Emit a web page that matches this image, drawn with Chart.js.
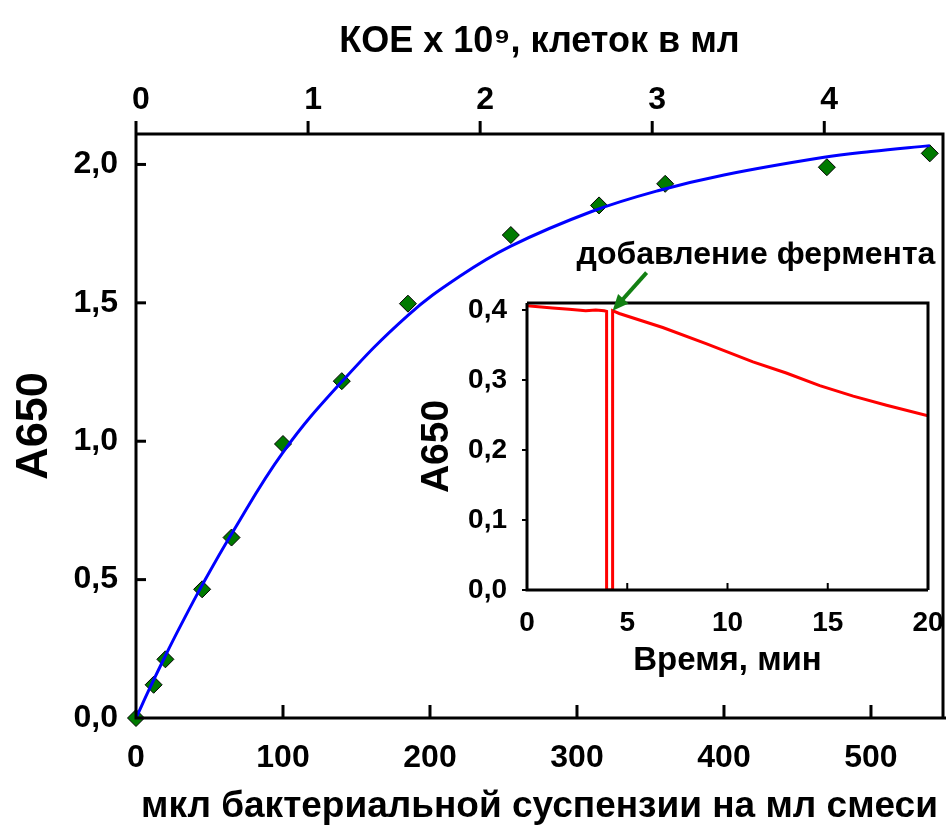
<!DOCTYPE html>
<html>
<head>
<meta charset="utf-8">
<script src="https://cdn.jsdelivr.net/npm/chart.js@4.4.1/dist/chart.umd.min.js"></script>
<style>
  body { margin: 0; background: #fff; }
  #wrap { position: relative; width: 946px; height: 826px; }
  #main { position: absolute; left: 0; top: 0; }
  #inset { position: absolute; left: 420px; top: 230px; }
</style>
</head>
<body>
<div id="wrap">
  <canvas id="main" width="946" height="826"></canvas>
  <canvas id="inset" width="526" height="460"></canvas>
</div>
<script>
// main plot: measured points
const volume = [0, 12, 20, 45, 65, 100, 140, 185, 255, 315, 360, 470, 540];
const absorb = [0, 0.12, 0.212, 0.465, 0.652, 0.99, 1.217, 1.497, 1.745, 1.852, 1.93, 1.99, 2.04];
// fitted curve
const fitX = [0, 10, 20, 30, 45, 65, 100, 140, 185, 220, 255, 310, 355, 400, 467, 500, 540];
const fitY = [0, 0.115, 0.225, 0.33, 0.48, 0.665, 0.96, 1.215, 1.455, 1.595, 1.705, 1.83, 1.905, 1.962, 2.025, 2.047, 2.068];
const bottomTicks = [0, 100, 200, 300, 400, 500];
const topTicks = [0, 1, 2, 3, 4];
const leftTicks = [0, 0.5, 1, 1.5, 2];

// inset: kinetics after enzyme addition
const timeMin = [0, 1.27, 2.1, 2.93, 3.43, 3.85, 3.97, 3.97, 4.27, 4.27, 4.6, 6.77, 8.93, 11.27, 12.93, 14.6, 16.27, 17.93, 20];
const insetA = [0.406, 0.403, 0.401, 0.399, 0.400, 0.399, 0.398, 0, 0, 0.399, 0.395, 0.375, 0.352, 0.326, 0.310, 0.292, 0.277, 0.264, 0.249];
const insetXTicks = [0, 5, 10, 15, 20];
const insetYTicks = [0, 0.1, 0.2, 0.3, 0.4];

Chart.defaults.font.family = "'Liberation Sans', Arial, sans-serif";
Chart.defaults.font.weight = 'bold';
Chart.defaults.color = '#000';
Chart.defaults.animation = false;

const comma = v => v.toFixed(1).replace('.', ',');
const setTicks = arr => s => { s.ticks = arr.map(v => ({ value: v })); };
// fixed axis box, no label overhang padding (layout padding handles that)
const fixSize = (key, size) => s => {
  s[key] = size;
  s.paddingLeft = s.paddingRight = s.paddingTop = s.paddingBottom = 0;
};

// frame + tick marks (in and out) drawn on the scales
const frame = {
  id: 'frame',
  afterDraw(chart, args, opts) {
    const { ctx, chartArea: a } = chart;
    ctx.save();
    ctx.strokeStyle = '#000';
    ctx.lineWidth = 3;
    ctx.beginPath();
    ctx.moveTo(a.left, a.top);
    ctx.lineTo(a.right, a.top);
    ctx.lineTo(a.right, a.bottom);
    ctx.moveTo(a.left, a.top);
    ctx.lineTo(a.left, a.bottom);
    ctx.lineTo(a.right + opts.bottomExtra, a.bottom);
    ctx.stroke();
    ctx.lineWidth = opts.tickWidth;
    opts.marks.forEach(m => {
      const s = chart.scales[m.id];
      m.values.forEach(v => {
        const p = s.getPixelForValue(v);
        ctx.beginPath();
        if (s.isHorizontal()) {
          const y = m.edge === 'top' ? a.top : a.bottom;
          ctx.moveTo(p, y);
          ctx.lineTo(p, y + m.len);
        } else {
          ctx.moveTo(a.left, p);
          ctx.lineTo(a.left + m.len, p);
        }
        ctx.stroke();
      });
    });
    ctx.restore();
  }
};

// nudge layout padding until the plot area sits where the original has it
function fitArea(chart, t) {
  const pad = { top: 0, left: 0, right: 0, bottom: 0 };
  for (let i = 0; i < 5; i++) {
    const a = chart.chartArea;
    pad.left += t.left - a.left;
    pad.top += t.top - a.top;
    pad.right += a.right - t.right;
    pad.bottom += a.bottom - t.bottom;
    chart.options.layout.padding = { ...pad };
    chart.update();
  }
}

const mainChart = new Chart(document.getElementById('main'), {
  type: 'scatter',
  data: {
    datasets: [
      {
        data: fitX.map((x, i) => ({ x: x, y: fitY[i] })),
        showLine: true,
        borderColor: '#0000ff',
        borderWidth: 3,
        pointRadius: 0,
        tension: 0.4,
        clip: false,
        order: 0
      },
      {
        data: volume.map((x, i) => ({ x: x, y: absorb[i] })),
        pointStyle: 'rectRot',
        pointRadius: 8.5,
        backgroundColor: '#007a00',
        borderColor: '#000',
        borderWidth: 1,
        clip: false,
        order: 1
      }
    ]
  },
  options: {
    responsive: false,
    devicePixelRatio: 1,
    layout: { padding: 0, autoPadding: false },
    plugins: {
      legend: { display: false },
      tooltip: { enabled: false },
      frame: {
        bottomExtra: 4, tickWidth: 3,
        marks: [
          { id: 'x', values: bottomTicks.slice(1), edge: 'bottom', len: -13 },
          { id: 'x2', values: topTicks, edge: 'top', len: -13 },
          { id: 'y', values: leftTicks.slice(1), len: 10 }
        ]
      }
    },
    scales: {
      x: {
        type: 'linear', position: 'bottom', min: 0, max: 549,
        afterBuildTicks: setTicks(bottomTicks),
        afterFit: fixSize('height', 108),
        grid: { display: false, drawTicks: false },
        border: { display: false },
        ticks: { font: { size: 32 }, padding: 21, maxRotation: 0 },
        title: {
          display: true, text: 'мкл бактериальной суспензии на мл смеси',
          font: { size: 37, lineHeight: 1 }, padding: { top: 0, bottom: 1 }
        }
      },
      x2: {
        type: 'linear', position: 'top', min: 0, max: 4.69,
        afterBuildTicks: setTicks(topTicks),
        afterFit: fixSize('height', 134),
        grid: { display: false, drawTicks: false },
        border: { display: false },
        ticks: { font: { size: 32 }, padding: 15, maxRotation: 0, labelOffset: 5 },
        title: {
          display: true, text: 'КОЕ x 10\u2079, клеток в мл',
          font: { size: 36, lineHeight: 1 }, padding: { top: 24, bottom: 0 }
        }
      },
      y: {
        type: 'linear', position: 'left', min: 0, max: 2.11,
        afterBuildTicks: setTicks(leftTicks),
        afterFit: fixSize('width', 136),
        grid: { display: false, drawTicks: false },
        border: { display: false },
        ticks: { font: { size: 32 }, padding: 18, callback: v => comma(v) },
        title: {
          display: true, text: 'A650',
          font: { size: 45, lineHeight: 1 }, padding: { top: 12, bottom: 0 }
        }
      }
    }
  },
  plugins: [frame]
});
fitArea(mainChart, { left: 136, top: 134, right: 943, bottom: 718 });

// inset chart
const insetChart = new Chart(document.getElementById('inset'), {
  type: 'scatter',
  data: {
    datasets: [{
      data: timeMin.map((t, i) => ({ x: t, y: insetA[i] })),
      showLine: true,
      borderColor: '#ff0000',
      borderWidth: 3,
      pointRadius: 0,
      tension: 0
    }]
  },
  options: {
    responsive: false,
    devicePixelRatio: 1,
    layout: { padding: 0, autoPadding: false },
    plugins: {
      legend: { display: false },
      tooltip: { enabled: false },
      frame: {
        bottomExtra: 0, tickWidth: 2,
        marks: [
          { id: 'x', values: [5, 10, 15], edge: 'bottom', len: -7 },
          { id: 'y', values: insetYTicks, len: -5 }
        ]
      }
    },
    scales: {
      x: {
        type: 'linear', position: 'bottom', min: 0, max: 20,
        afterBuildTicks: setTicks(insetXTicks),
        afterFit: fixSize('height', 100),
        grid: { display: false, drawTicks: false },
        border: { display: false },
        ticks: { font: { size: 28 }, padding: 16, maxRotation: 0 },
        title: {
          display: true, text: 'Время, мин',
          font: { size: 33, lineHeight: 1 }, padding: { top: 0, bottom: 13 }
        }
      },
      y: {
        type: 'linear', position: 'left', min: 0, max: 0.41,
        afterBuildTicks: setTicks(insetYTicks),
        afterFit: fixSize('width', 107),
        grid: { display: false, drawTicks: false },
        border: { display: false },
        ticks: { font: { size: 28 }, padding: 20, callback: v => comma(v) },
        title: {
          display: true, text: 'A650',
          font: { size: 39, lineHeight: 1 }, padding: { top: -2, bottom: 0 }
        }
      }
    }
  },
  plugins: [frame, {
    id: 'note',
    afterDraw(chart) {
      const { ctx, scales } = chart;
      ctx.save();
      ctx.font = "bold 32px 'Liberation Sans', Arial, sans-serif";
      ctx.fillStyle = '#000';
      ctx.textAlign = 'center';
      ctx.textBaseline = 'middle';
      ctx.fillText('добавление фермента', 336, 25);
      // arrow pointing at the moment of enzyme addition
      const tipX = scales.x.getPixelForValue(4.27);
      const tipY = scales.y.getPixelForValue(0.399);
      const tailX = tipX + 34, tailY = tipY - 38;
      const ang = Math.atan2(tipY - tailY, tipX - tailX);
      ctx.strokeStyle = '#138013';
      ctx.fillStyle = '#138013';
      ctx.lineWidth = 4;
      ctx.beginPath();
      ctx.moveTo(tailX, tailY);
      ctx.lineTo(tipX - 10 * Math.cos(ang), tipY - 10 * Math.sin(ang));
      ctx.stroke();
      ctx.beginPath();
      ctx.moveTo(tipX, tipY);
      ctx.lineTo(tipX - 16 * Math.cos(ang) + 7 * Math.sin(ang), tipY - 16 * Math.sin(ang) - 7 * Math.cos(ang));
      ctx.lineTo(tipX - 16 * Math.cos(ang) - 7 * Math.sin(ang), tipY - 16 * Math.sin(ang) + 7 * Math.cos(ang));
      ctx.closePath();
      ctx.fill();
      ctx.restore();
    }
  }]
});
fitArea(insetChart, { left: 107, top: 73, right: 508, bottom: 360 });
</script>
</body>
</html>
